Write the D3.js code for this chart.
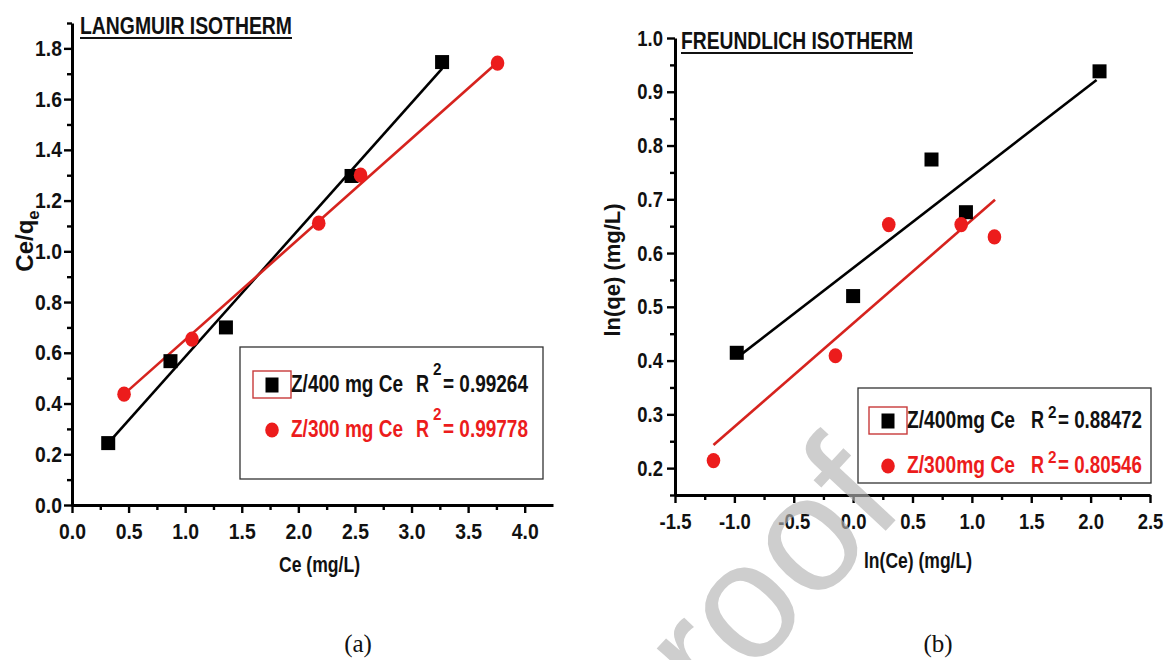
<!DOCTYPE html>
<html>
<head>
<meta charset="utf-8">
<script src="https://cdn.jsdelivr.net/npm/d3@7"></script>
<style>
  body { margin: 0; background: #fff; }
  svg text { font-family: 'Liberation Sans', Arial, sans-serif; font-weight: bold; }
</style>
</head>
<body>
<svg id="chart" width="1164" height="660"></svg>
<script>
// ---- data ----
// (a) Langmuir: Ce vs Ce/qe
const lgmX400 = [0.32, 0.87, 1.36, 2.47, 3.27];
const lgmY400 = [0.244, 0.567, 0.70, 1.297, 1.746];
const lgmX300 = [0.46, 1.06, 2.18, 2.55, 3.76];
const lgmY300 = [0.437, 0.654, 1.111, 1.30, 1.742];
const lgmFit400 = [[0.32, 0.244], [3.27, 1.72]];
const lgmFit300 = [[0.46, 0.437], [3.76, 1.745]];
const lgmXTicks = [0, 0.5, 1.0, 1.5, 2.0, 2.5, 3.0, 3.5, 4.0];
const lgmYTicks = [0, 0.2, 0.4, 0.6, 0.8, 1.0, 1.2, 1.4, 1.6, 1.8];
const lgmLegend = ['Z/400 mg Ce', 'Z/300 mg Ce'];
const lgmR2 = ['0.99264', '0.99778'];

// (b) Freundlich: ln(Ce) vs ln(qe)
const frdX400 = [-0.98, 0.0, 0.66, 0.95, 2.075];
const frdY400 = [0.4145, 0.52, 0.774, 0.676, 0.938];
const frdX300 = [-1.176, -0.149, 0.30, 0.91, 1.19];
const frdY300 = [0.214, 0.409, 0.653, 0.653, 0.630];
const frdFit400 = [[-0.98, 0.405], [2.05, 0.922]];
const frdFit300 = [[-1.176, 0.243], [1.195, 0.699]];
const frdXTicks = [-1.5, -1.0, -0.5, 0.0, 0.5, 1.0, 1.5, 2.0, 2.5];
const frdYTicks = [0.2, 0.3, 0.4, 0.5, 0.6, 0.7, 0.8, 0.9, 1.0];
const frdLegend = ['Z/400mg Ce', 'Z/300mg Ce'];
const frdR2 = ['0.88472', '0.80546'];

const RED = '#ec1c1c';
const RED_LINE = '#d6231e';

const svg = d3.select('#chart');

// text squeezed to a given width (the figure uses a narrow bold face)
function fitText(g, x, y, str, size, w, col) {
    return g.append('text').attr('x', x).attr('y', y)
        .attr('textLength', w).attr('lengthAdjust', 'spacingAndGlyphs')
        .style('font-size', size + 'px').attr('fill', col).text(str);
}

function drawPanel(p) {
    const g = svg.append('g');
    const x = d3.scaleLinear().domain(p.xDomain).range(p.xRange);
    const y = d3.scaleLinear().domain(p.yDomain).range(p.yRange);
    const fmt = d => d.toFixed(1);

    // minor ticks halfway between majors
    const xStep = p.xTicks[1] - p.xTicks[0];
    const yStep = p.yTicks[1] - p.yTicks[0];
    const xMinor = d3.range(p.xDomain[0] + xStep / 2, p.xDomain[1], xStep);
    const yMinor = d3.range(p.yTicks[0] - yStep / 2, p.yDomain[1] + 1e-9, yStep).filter(v => v > p.yDomain[0] - 1e-9);

    const gxm = g.append('g').attr('transform', `translate(0,${p.yRange[0]})`)
        .call(d3.axisBottom(x).tickValues(xMinor).tickSize(5).tickSizeOuter(0).tickFormat(''));
    const gym = g.append('g').attr('transform', `translate(${p.xRange[0]},0)`)
        .call(d3.axisLeft(y).tickValues(yMinor).tickSize(5).tickSizeOuter(0).tickFormat(''));

    const gx = g.append('g').attr('transform', `translate(0,${p.yRange[0]})`)
        .call(d3.axisBottom(x).tickValues(p.xTicks).tickSize(8).tickSizeOuter(0).tickPadding(10).tickFormat(fmt));
    const gy = g.append('g').attr('transform', `translate(${p.xRange[0]},0)`)
        .call(d3.axisLeft(y).tickValues(p.yTicks).tickSize(8).tickSizeOuter(0).tickPadding(p.yPad).tickFormat(fmt));

    [gxm, gym, gx, gy].forEach(a => {
        a.select('.domain').attr('stroke', '#000').attr('stroke-width', 3);
        a.selectAll('.tick line').attr('stroke', '#000').attr('stroke-width', 2.4);
        a.selectAll('.tick text').attr('fill', '#111').style('font-size', '22px')
            .attr('transform', `scale(${p.squeeze},1)`);
    });
    gy.selectAll('.tick text').attr('x', -(8 + p.yPad) / p.squeeze);
    gxm.select('.domain').remove();
    gym.select('.domain').remove();

    // fit lines
    const line = d3.line().x(d => x(d[0])).y(d => y(d[1]));
    g.append('path').datum(p.fit400).attr('d', line)
        .attr('fill', 'none').attr('stroke', '#000').attr('stroke-width', 2.6);
    g.append('path').datum(p.fit300).attr('d', line)
        .attr('fill', 'none').attr('stroke', RED_LINE).attr('stroke-width', 2.6);

    // points
    g.append('g').selectAll('rect').data(d3.zip(p.x400, p.y400)).join('rect')
        .attr('x', d => x(d[0]) - 7).attr('y', d => y(d[1]) - 7)
        .attr('width', 14).attr('height', 14).attr('fill', '#000');
    g.append('g').selectAll('ellipse').data(d3.zip(p.x300, p.y300)).join('ellipse')
        .attr('cx', d => x(d[0])).attr('cy', d => y(d[1]))
        .attr('rx', 6.8).attr('ry', 7.6).attr('fill', RED);

    // title, underlined
    fitText(g, p.title.x, p.title.y, p.title.text, 23, p.title.w, '#111');
    g.append('line').attr('x1', p.title.x).attr('x2', p.title.x + p.title.w)
        .attr('y1', p.title.y + 4).attr('y2', p.title.y + 4)
        .attr('stroke', '#111').attr('stroke-width', 2);

    // axis titles
    fitText(g, p.xTitle.x, p.xTitle.y, p.xTitle.text, 22, p.xTitle.w, '#111');
    const yt = g.append('text')
        .attr('transform', `translate(${p.yTitle.x},${p.yTitle.y}) rotate(-90)`)
        .attr('text-anchor', 'middle')
        .style('font-size', p.yTitle.size + 'px').attr('fill', '#111');
    yt.append('tspan').text(p.yTitle.text);
    if (p.yTitle.sub) {
        yt.append('tspan').attr('dy', 6).style('font-size', (p.yTitle.size * 0.7) + 'px').text(p.yTitle.sub);
    }

    // legend
    const L = p.legend;
    g.append('rect').attr('x', L.box[0]).attr('y', L.box[1])
        .attr('width', L.box[2] - L.box[0]).attr('height', L.box[3] - L.box[1])
        .attr('fill', '#fff').attr('stroke', '#333').attr('stroke-width', 1.3);
    g.append('rect').attr('x', L.sym - 19).attr('y', L.rows[0] - 21)
        .attr('width', 38).attr('height', 27)
        .attr('fill', 'none').attr('stroke', '#c83a3a').attr('stroke-width', 1.4);
    g.append('rect').attr('x', L.sym - 6.5).attr('y', L.rows[0] - 14.5)
        .attr('width', 13).attr('height', 15).attr('fill', '#000');
    g.append('ellipse').attr('cx', L.sym).attr('cy', L.rows[1] - 7)
        .attr('rx', 6.8).attr('ry', 7.6).attr('fill', RED);

    L.rows.forEach((by, i) => {
        const col = i === 0 ? '#111' : RED;
        fitText(g, L.tx, by, p.names[i], 23, L.tw, col);
        fitText(g, L.rx, by, 'R', 23, 13, col);
        fitText(g, L.sx, by - L.supUp, '2', 17, 8.5, col);
        fitText(g, L.ex, by, '= ' + p.r2[i], 23, L.ew, col);
    });
}

drawPanel({
    xDomain: [0, 4.25], xRange: [72, 553],
    yDomain: [0, 1.9], yRange: [505, 23],
    xTicks: lgmXTicks, yTicks: lgmYTicks, yPad: 2, squeeze: 0.88,
    x400: lgmX400, y400: lgmY400, x300: lgmX300, y300: lgmY300,
    fit400: lgmFit400, fit300: lgmFit300,
    names: lgmLegend, r2: lgmR2,
    title: { text: 'LANGMUIR ISOTHERM', x: 80, y: 34, w: 212 },
    xTitle: { text: 'Ce (mg/L)', x: 279, y: 572, w: 81 },
    yTitle: { text: 'Ce/q', sub: 'e', x: 33, y: 241, size: 24 },
    legend: { box: [240, 347, 543, 479], rows: [392, 437], sym: 272,
              tx: 291, tw: 112, rx: 416, sx: 433, supUp: 17, ex: 443, ew: 85 }
});

drawPanel({
    xDomain: [-1.5, 2.5], xRange: [675, 1150],
    yDomain: [0.15, 1.0], yRange: [495, 38],
    xTicks: frdXTicks, yTicks: frdYTicks, yPad: 4, squeeze: 0.84,
    x400: frdX400, y400: frdY400, x300: frdX300, y300: frdY300,
    fit400: frdFit400, fit300: frdFit300,
    names: frdLegend, r2: frdR2,
    title: { text: 'FREUNDLICH ISOTHERM', x: 681, y: 49, w: 232 },
    xTitle: { text: 'ln(Ce) (mg/L)', x: 864, y: 568, w: 108 },
    yTitle: { text: 'ln(qe) (mg/L)', x: 620, y: 270, size: 22 },
    legend: { box: [858, 388, 1151, 483], rows: [428, 473], sym: 888,
              tx: 907, tw: 108, rx: 1031, sx: 1048, supUp: 10, ex: 1058, ew: 84 }
});

// sub-figure captions
svg.selectAll('text.caption').data(['(a)', '(b)']).join('text')
    .attr('class', 'caption')
    .attr('x', (d, i) => [358, 938][i]).attr('y', 652)
    .attr('text-anchor', 'middle')
    .style('font-family', "'Liberation Serif', 'Times New Roman', serif")
    .style('font-weight', 'normal').style('font-size', '25px')
    .attr('fill', '#111').text(d => d);

// pre-proof watermark
svg.append('text')
    .attr('transform', 'translate(907,508) rotate(-47)')
    .attr('text-anchor', 'end')
    .style('font-weight', 'normal').style('font-size', '165px')
    .attr('fill', '#b4b4b4').attr('opacity', 0.65)
    .text('Journal Pre-proof');
</script>
</body>
</html>
